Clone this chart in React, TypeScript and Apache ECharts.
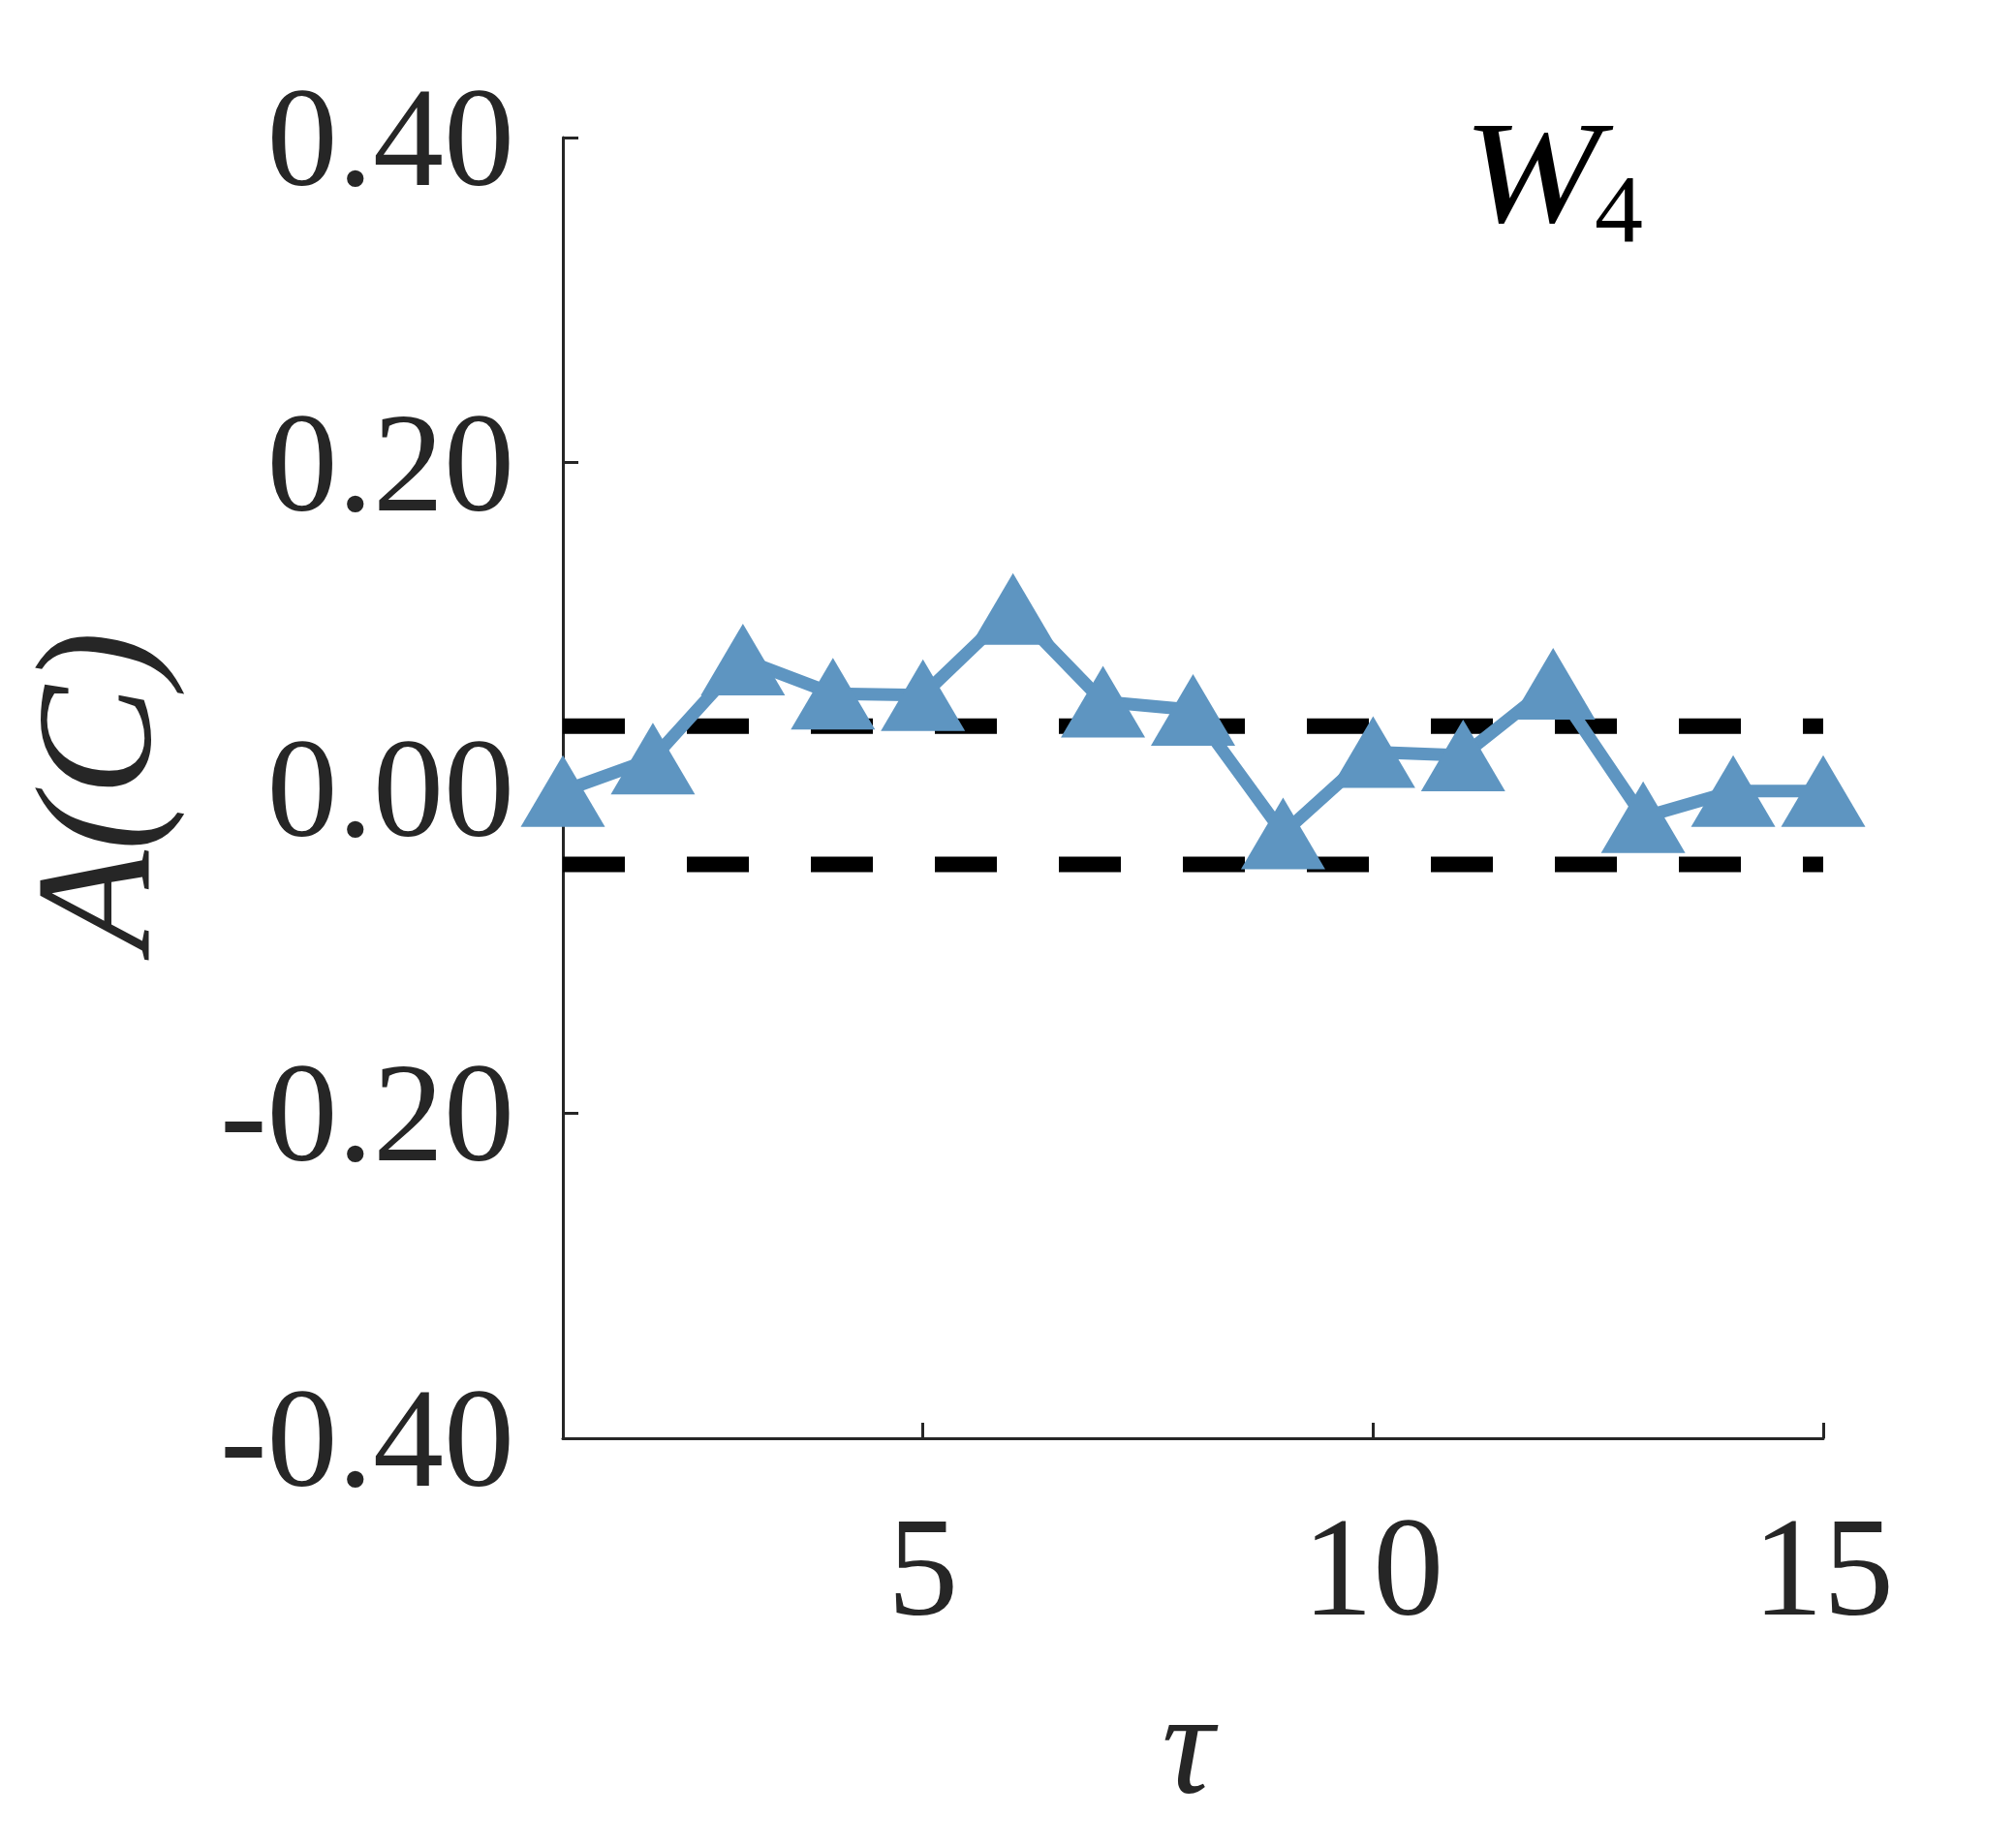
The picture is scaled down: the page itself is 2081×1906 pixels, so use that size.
import React, { useEffect, useRef } from "react";
import * as echarts from "echarts";

const tau = [1, 2, 3, 4, 5, 6, 7, 8, 9, 10, 11, 12, 13, 14, 15];
const aValues = [-0.002, 0.018, 0.079, 0.058, 0.057, 0.110, 0.053, 0.048, -0.028, 0.022, 0.020, 0.064, -0.018, -0.002, -0.002];
const thresholds = [0.038, -0.047];
const xTicks = [5, 10, 15];
const yTicks = [-0.4, -0.2, 0, 0.2, 0.4];
const yTickLabels = ["-0.40", "-0.20", "0.00", "0.20", "0.40"];

const FONT = "'Liberation Serif', 'Times New Roman', serif";
const INK = "#262626";
const BLUE = "#5E95C1";

export default function App() {
  const ref = useRef<HTMLDivElement>(null);
  useEffect(() => {
    if (!ref.current) return;
    const chart = echarts.init(ref.current, undefined, { renderer: "svg" });
    const lineData = tau.map((t, i) => [t, aValues[i]]);
    const tMin = tau[0];
    const tMax = tau[tau.length - 1];
    const thresholdSeries = thresholds.map((v, i) => ({
      type: "line",
      name: "threshold" + i,
      data: [
        [tMin, v],
        [tMax, v],
      ],
      symbol: "none",
      silent: true,
      z: 1,
      lineStyle: { color: "#000000", width: 16, type: [64, 64] },
    }));
    chart.setOption({
      animation: false,
      backgroundColor: "#ffffff",
      grid: { left: 581, right: 199, top: 142, bottom: 421, containLabel: false },
      xAxis: {
        type: "value",
        min: tMin,
        max: tMax,
        axisLine: { show: true, onZero: false, lineStyle: { color: INK, width: 3 } },
        axisTick: {
          show: true,
          inside: true,
          length: 16,
          customValues: xTicks,
          lineStyle: { color: INK, width: 3 },
        },
        axisLabel: {
          customValues: xTicks,
          fontFamily: FONT,
          fontSize: 146,
          color: INK,
          margin: 60,
        },
        splitLine: { show: false },
      },
      yAxis: {
        type: "value",
        min: yTicks[0],
        max: yTicks[yTicks.length - 1],
        interval: 0.2,
        axisLine: { show: true, onZero: false, lineStyle: { color: INK, width: 3 } },
        axisTick: { show: true, inside: true, length: 16, lineStyle: { color: INK, width: 3 } },
        axisLabel: {
          fontFamily: FONT,
          fontSize: 146,
          color: INK,
          margin: 50,
          formatter: (v: number) => {
            let best = 0;
            yTicks.forEach((t, i) => {
              if (Math.abs(t - v) < Math.abs(yTicks[best] - v)) best = i;
            });
            return yTickLabels[best];
          },
        },
        splitLine: { show: false },
      },
      series: [
        ...thresholdSeries,
        {
          type: "line",
          name: "A",
          data: lineData,
          z: 3,
          symbol: "triangle",
          symbolSize: [87, 74],
          itemStyle: { color: BLUE },
          lineStyle: { color: BLUE, width: 13 },
        },
      ],
      graphic: [
        {
          type: "text",
          x: 97,
          y: 817,
          rotation: Math.PI / 2,
          style: {
            text: "A(C)",
            font: `italic 170px ${FONT}`,
            lineHeight: 150,
            fill: INK,
            align: "center",
            verticalAlign: "middle",
          },
        },
        {
          type: "text",
          x: 1226,
          y: 1800,
          style: {
            text: "τ",
            font: `italic 150px ${FONT}`,
            fill: INK,
            align: "center",
            verticalAlign: "middle",
          },
        },
        {
          type: "text",
          x: 1510,
          y: 179,
          scaleX: 1.14,
          style: {
            text: "W",
            font: `italic 150px ${FONT}`,
            fill: "#000000",
            align: "left",
            verticalAlign: "middle",
          },
        },
        {
          type: "text",
          x: 1646,
          y: 215,
          style: {
            text: "4",
            font: `100px ${FONT}`,
            fill: "#000000",
            align: "left",
            verticalAlign: "middle",
          },
        },
      ],
    });
    return () => chart.dispose();
  }, []);
  return (
    <div
      ref={ref}
      style={{ position: "fixed", left: 0, top: 0, width: 2081, height: 1906, background: "#fff" }}
    />
  );
}
